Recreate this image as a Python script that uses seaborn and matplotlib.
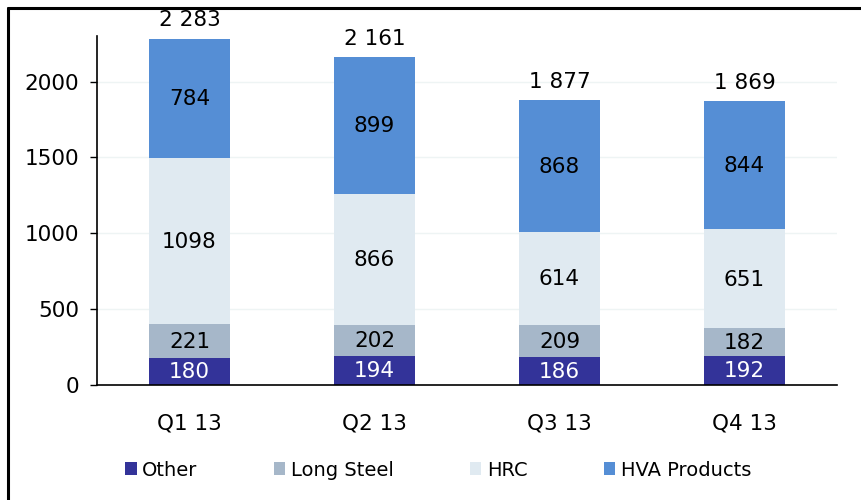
import pandas as pd
import matplotlib.pyplot as plt
import seaborn as sns
from matplotlib.lines import Line2D
from matplotlib.patches import Patch

quarters = ["Q1 13", "Q2 13", "Q3 13", "Q4 13"]
other = [180, 194, 186, 192]
long_steel = [221, 202, 209, 182]
hrc = [1098, 866, 614, 651]
hva = [784, 899, 868, 844]

series = ["Other", "Long Steel", "HRC", "HVA Products"]
colors = ["#333399", "#A6B7C9", "#E0EAF1", "#558ED5"]
text_colors = ["white", "black", "black", "black"]

df = pd.DataFrame({"quarter": quarters, "Other": other, "Long Steel": long_steel,
                   "HRC": hrc, "HVA Products": hva})

# cumulative tops for stacking
cum = df[series].cumsum(axis=1)

sns.set_style("white")
plt.rcParams["font.family"] = ["DejaVu Sans"]
plt.rcParams["text.color"] = "black"

fig = plt.figure(figsize=(8.61, 5), dpi=100)
ax = fig.add_axes([0.1127, 0.23, 0.8595, 0.698])

# draw tallest (cumulative) first, then overlay lower segments
for s, c in zip(reversed(series), reversed(colors)):
    sns.barplot(x=df["quarter"], y=cum[s], color=c, width=0.44, ax=ax,
                saturation=1, edgecolor="none", zorder=2)

# segment labels
for i in range(len(quarters)):
    prev = 0
    for s, tc in zip(series, text_colors):
        top = cum[s].iloc[i]
        ax.text(i, (prev + top) / 2 - 5, str(df[s].iloc[i]), ha="center", va="center",
                fontsize=15.5, color=tc, zorder=3)
        prev = top
    total = cum["HVA Products"].iloc[i]
    ax.text(i, total + 55, f"{total:,}".replace(",", " "), ha="center", va="bottom",
            fontsize=15.5, color="black", zorder=3)

ax.set_xlim(-0.5, 3.5)
ax.set_ylim(0, 2300)
ax.set_yticks([0, 500, 1000, 1500, 2000])
ax.yaxis.grid(True, color="#EEF4F4", linewidth=1, zorder=0)
ax.set_axisbelow(True)
ax.set_xlabel("")
ax.set_ylabel("")
sns.despine(ax=ax)
ax.spines["left"].set_color("black")
ax.spines["bottom"].set_color("black")
ax.spines["left"].set_linewidth(1.2)
ax.spines["bottom"].set_linewidth(1.2)
ax.tick_params(axis="y", left=True, length=5, width=1, labelsize=15.5, pad=8,
               colors="black")
ax.tick_params(axis="x", bottom=False, labelsize=15.5, pad=17, colors="black")

handles = [Patch(facecolor=c, edgecolor="none") for c in colors]
fig.legend(handles, series, loc="center", bbox_to_anchor=(0.509, 0.06), ncol=4,
           frameon=False, fontsize=14, handlelength=0.6, handleheight=0.6,
           handletextpad=0.3, columnspacing=3.9, labelcolor="black")

# partial frame around the figure
fig.add_artist(Line2D([0.0093, 0.0093], [0, 0.984], color="black", linewidth=2.2,
                      transform=fig.transFigure))
fig.add_artist(Line2D([0.0093, 1], [0.984, 0.984], color="black", linewidth=2.2,
                      transform=fig.transFigure))

plt.savefig("out.png", dpi=100)
